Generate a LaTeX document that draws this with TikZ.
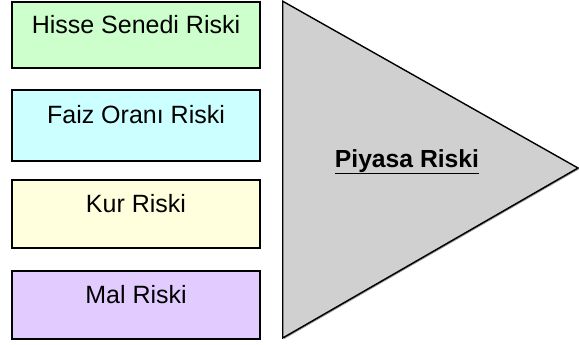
\documentclass[tikz,border=0pt]{standalone}
\usepackage{fontspec}
\setmainfont{Liberation Sans}
\usetikzlibrary{shadows}
\definecolor{riskgreen}{HTML}{CCFFCC}
\definecolor{riskcyan}{HTML}{CCFFFF}
\definecolor{riskyellow}{HTML}{FFFFDD}
\definecolor{risklilac}{HTML}{E2CCFF}
\definecolor{riskgray}{HTML}{D0D0D0}
\tikzset{
  softshadow/.style={drop shadow={shadow xshift=1.2pt,shadow yshift=-1.2pt,fill=black!40,opacity=1}},
  riskbox/.style={draw=black, line width=1.4pt, rectangle, softshadow,
    minimum width=248pt, inner sep=0pt, text height=18pt, text depth=21pt,
    font=\fontsize{25pt}{28pt}\selectfont},
  marketlabel/.style={anchor=base, inner sep=0pt,
    font=\fontsize{24.7pt}{28pt}\selectfont\bfseries}
}
\begin{document}
\begin{tikzpicture}[x=1pt,y=-1pt]
\useasboundingbox (0,0) rectangle (579,345);
% market risk wedge
\coordinate (ttop) at (282.7,1.2);
\coordinate (tbot) at (282.7,338);
\coordinate (tapex) at (578,168);
\filldraw[fill=riskgray, draw=black, line width=1.4pt, line join=miter, softshadow]
  (ttop) -- (tapex) -- (tbot) -- cycle;
\node[marketlabel] (market) at (407,167) {\underline{Piyasa Riski}};
% component risk boxes
\node[riskbox, fill=riskgreen,  minimum height=66pt] (equity)   at (136,35)    {Hisse Senedi Riski};
\node[riskbox, fill=riskcyan,   minimum height=71pt] (interest) at (136,125.5) {Faiz Oranı Riski};
\node[riskbox, fill=riskyellow, minimum height=68pt] (fx)       at (136,214)   {Kur Riski};
\node[riskbox, fill=risklilac,  minimum height=68pt] (commodity) at (136,305)  {Mal Riski};
\end{tikzpicture}
\end{document}
